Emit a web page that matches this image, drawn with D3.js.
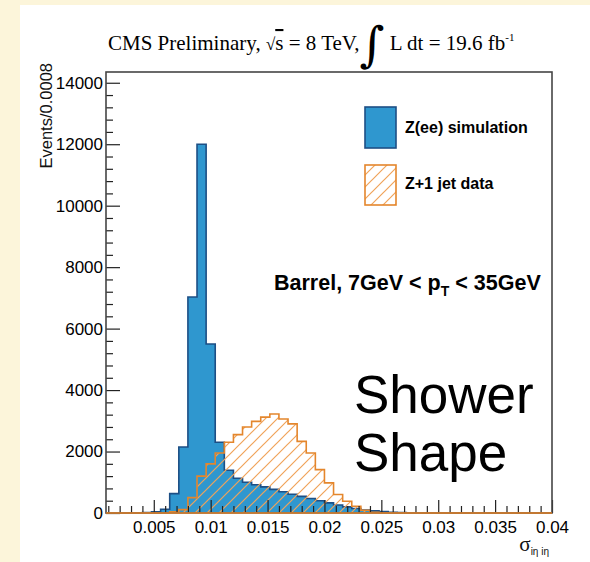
<!DOCTYPE html>
<html>
<head>
<meta charset="utf-8">
<script src="https://cdn.jsdelivr.net/npm/d3@7"></script>
<style>
  body { margin: 0; background: #fff; }
  svg { display: block; }
</style>
</head>
<body>
<svg id="chart" width="590" height="562"></svg>
<script>
// Histogram binning: 49 bins of width 0.0008 covering [0.0008, 0.04]
const binWidth = 0.0008;
const xRange = [0.0008, 0.04];

// Z(ee) simulation, events per bin
const zeeSimulation = [
  0, 0, 0, 5, 15, 40, 120, 630, 2150, 7030,
  12000, 5500, 2300, 1390, 1130, 1000, 920, 850, 770, 690,
  610, 540, 470, 400, 330, 260, 200, 145, 100, 70,
  45, 25, 12, 5, 0, 0, 0, 0, 0, 0,
  0, 0, 0, 0, 0, 0, 0, 0, 0
];

// Z+1 jet data, events per bin
const zJetData = [
  0, 0, 0, 0, 0, 0, 8, 40, 110, 500,
  1200, 1600, 1950, 2300, 2550, 2800, 2980, 3120, 3220, 3060,
  2900, 2330, 1950, 1410, 980, 600, 380, 220, 90, 26,
  8, 0, 0, 0, 0, 0, 0, 0, 0, 0,
  0, 0, 0, 0, 0, 0, 0, 0, 0
];

const xTickValues = [0.005, 0.01, 0.015, 0.02, 0.025, 0.03, 0.035, 0.04];
const xTickLabels = ["0.005", "0.01", "0.015", "0.02", "0.025", "0.03", "0.035", "0.04"];
const yTickValues = [0, 2000, 4000, 6000, 8000, 10000, 12000, 14000];
const yMax = 14350;

const seriesNames = ["Z(ee) simulation", "Z+1 jet data"];

const svg = d3.select("#chart");
const W = 590, H = 562;
const frame = { left: 106, right: 552, top: 72, bottom: 513 };

// page background
svg.append("rect").attr("width", W).attr("height", H).attr("fill", "#fcf5da");
svg.append("rect").attr("x", 20).attr("y", 5).attr("width", W - 20).attr("height", H - 5).attr("fill", "#ffffff");

const x = d3.scaleLinear().domain(xRange).range([frame.left, frame.right]);
const y = d3.scaleLinear().domain([0, yMax]).range([frame.bottom, frame.top]);

// hatch pattern for the data histogram
const defs = svg.append("defs");
const hatch = defs.append("pattern")
  .attr("id", "hatch")
  .attr("patternUnits", "userSpaceOnUse")
  .attr("width", 12).attr("height", 12);
hatch.append("path")
  .attr("d", "M0,12 L12,0 M-3,3 L3,-3 M9,15 L15,9")
  .attr("stroke", "#f0a359").attr("stroke-width", 1.2).attr("fill", "none");

function binPoints(values) {
  const pts = values.map((v, i) => ({ x: xRange[0] + i * binWidth, v }));
  pts.push({ x: xRange[1], v: values[values.length - 1] });
  return pts;
}
function outlinePoints(values) {
  const pts = [{ x: xRange[0], v: 0 }].concat(binPoints(values));
  pts.push({ x: xRange[1], v: 0 });
  return pts;
}

const area = d3.area().curve(d3.curveStepAfter)
  .x(d => x(d.x)).y0(y(0)).y1(d => y(d.v));
const line = d3.line().curve(d3.curveStepAfter)
  .x(d => x(d.x)).y(d => y(d.v));

const plot = svg.append("g");

// Z(ee) simulation: solid fill
plot.append("path").attr("d", area(binPoints(zeeSimulation)))
  .attr("fill", "#2f97cf").attr("stroke", "none");
plot.append("path").attr("d", line(outlinePoints(zeeSimulation)))
  .attr("fill", "none").attr("stroke", "#1d4f85").attr("stroke-width", 1.6);

// Z+1 jet data: hatched
plot.append("path").attr("d", area(binPoints(zJetData)))
  .attr("fill", "url(#hatch)").attr("stroke", "none");
plot.append("path").attr("d", line(outlinePoints(zJetData)))
  .attr("fill", "none").attr("stroke", "#e4862c").attr("stroke-width", 1.6);

// axes
const tickColor = "#222";
const fontSans = "'Liberation Sans', Arial, Helvetica, sans-serif";

const xMinor = d3.range(1, 41).map(i => i / 1000).filter(v => v >= xRange[0] && Math.abs(v * 200 - Math.round(v * 200)) > 1e-9);
svg.append("g").attr("transform", `translate(0,${frame.bottom})`)
  .call(d3.axisBottom(x).tickValues(xMinor).tickSize(-7).tickFormat(""))
  .call(g => g.select(".domain").remove());
const gx = svg.append("g").attr("transform", `translate(0,${frame.bottom})`)
  .call(d3.axisBottom(x).tickValues(xTickValues).tickSize(-13).tickPadding(8)
    .tickFormat((d, i) => xTickLabels[i]))
  .call(g => g.select(".domain").remove());
gx.selectAll("text").attr("font-family", fontSans).attr("font-size", 17).attr("fill", "#000");

const yMinor = d3.range(400, yMax, 400).filter(v => v % 2000 !== 0);
svg.append("g").attr("transform", `translate(${frame.left},0)`)
  .call(d3.axisLeft(y).tickValues(yMinor).tickSize(-7).tickFormat(""))
  .call(g => g.select(".domain").remove());
const gy = svg.append("g").attr("transform", `translate(${frame.left},0)`)
  .call(d3.axisLeft(y).tickValues(yTickValues).tickSize(-14).tickPadding(3).tickFormat(d3.format("d")))
  .call(g => g.select(".domain").remove());
gy.selectAll("text").attr("font-family", fontSans).attr("font-size", 17).attr("fill", "#000");

svg.selectAll(".tick line").attr("stroke", tickColor).attr("stroke-width", 1.2);

// frame
svg.append("rect")
  .attr("x", frame.left).attr("y", frame.top)
  .attr("width", frame.right - frame.left).attr("height", frame.bottom - frame.top)
  .attr("fill", "none").attr("stroke", "#454545").attr("stroke-width", 1.6);
// zero line of the data histogram along the axis
svg.append("line")
  .attr("x1", frame.left).attr("x2", frame.right)
  .attr("y1", y(0)).attr("y2", y(0))
  .attr("stroke", "#e4862c").attr("stroke-width", 1.6);

// axis titles
svg.append("text")
  .attr("transform", `translate(52,63) rotate(-90)`)
  .attr("text-anchor", "end")
  .attr("font-family", fontSans).attr("font-size", 16.5).attr("fill", "#111")
  .text("Events/0.0008");

const xt = svg.append("text")
  .attr("x", 549).attr("y", 551)
  .attr("text-anchor", "end")
  .attr("font-family", "'Liberation Serif', 'DejaVu Serif', serif").attr("fill", "#111");
xt.append("tspan").attr("font-size", 21).text("σ");
xt.append("tspan").attr("font-size", 10).attr("dy", 4).attr("font-family", fontSans).text("iη iη");

// title
const serif = "'Liberation Serif', 'Times New Roman', serif";
const title = svg.append("text").attr("x", 108).attr("y", 50)
  .attr("font-family", serif).attr("font-size", 21).attr("fill", "#000");
title.append("tspan").text("CMS Preliminary, ");
title.append("tspan").attr("font-size", 17).text("√");
title.append("tspan").attr("text-decoration", "overline").text("s");
title.append("tspan").text(" = 8 TeV,");
title.append("tspan").attr("font-size", 48).attr("dy", 11).attr("font-family", "'DejaVu Serif', serif").text("∫");
title.append("tspan").attr("dy", -11).text(" L dt = 19.6 fb");
title.append("tspan").attr("font-size", 11).attr("dy", -9).text("-1");

// legend
const legend = svg.append("g");
legend.append("rect").attr("x", 365).attr("y", 107).attr("width", 31).attr("height", 41)
  .attr("fill", "#2f97cf").attr("stroke", "#1d4f85").attr("stroke-width", 1.6);
legend.append("rect").attr("x", 365).attr("y", 165).attr("width", 31).attr("height", 40)
  .attr("fill", "url(#hatch)").attr("stroke", "#e4862c").attr("stroke-width", 1.6);
legend.append("text").attr("x", 405).attr("y", 133)
  .attr("font-family", fontSans).attr("font-weight", "bold").attr("font-size", 16).attr("fill", "#000")
  .text(seriesNames[0]);
legend.append("text").attr("x", 405).attr("y", 189)
  .attr("font-family", fontSans).attr("font-weight", "bold").attr("font-size", 16).attr("fill", "#000")
  .text(seriesNames[1]);

// selection label
const sel = svg.append("text").attr("x", 274).attr("y", 290)
  .attr("font-family", fontSans).attr("font-weight", "bold").attr("font-size", 21.5).attr("fill", "#000");
sel.append("tspan").text("Barrel, 7GeV < p");
sel.append("tspan").attr("font-size", 14).attr("dy", 6).text("T");
sel.append("tspan").attr("dy", -6).text(" < 35GeV");

// annotation
const note = svg.append("text").attr("font-family", fontSans).attr("font-size", 53).attr("fill", "#000");
note.append("tspan").attr("x", 354).attr("y", 413).text("Shower");
note.append("tspan").attr("x", 354).attr("y", 471).text("Shape");
</script>
</body>
</html>
